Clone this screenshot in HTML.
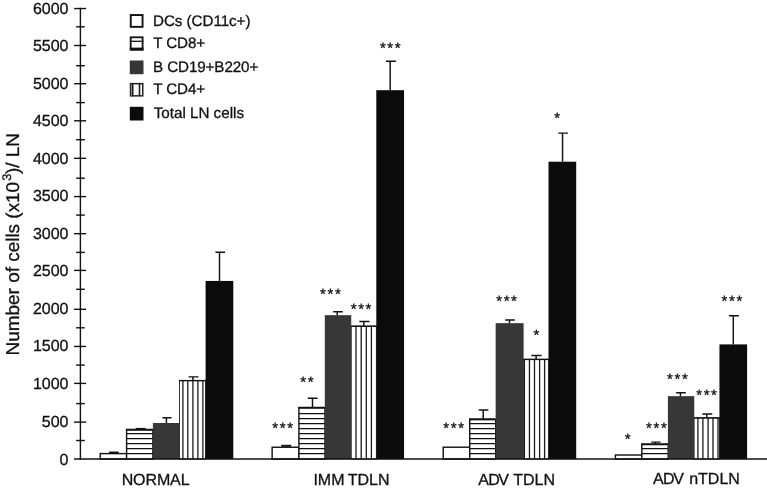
<!DOCTYPE html><html><head><meta charset="utf-8"><title>Figure</title>
<style>html,body{margin:0;padding:0;background:#fff;}svg{display:block}text{font-family:"Liberation Sans",sans-serif;fill:#111;stroke:#111;stroke-width:0.3px;text-rendering:geometricPrecision}</style></head><body>
<svg width="767" height="489" viewBox="0 0 767 489">
<rect width="767" height="489" fill="#fff"/>
<g stroke="#111" stroke-width="1.40" fill="none">
<line x1="80.40" y1="7.65" x2="80.40" y2="459.75"/>
<line x1="76.10" y1="440.50" x2="84.80" y2="440.50"/>
<line x1="74.05" y1="422.10" x2="86.10" y2="422.10"/>
<line x1="76.10" y1="403.60" x2="84.80" y2="403.60"/>
<line x1="74.05" y1="383.40" x2="86.10" y2="383.40"/>
<line x1="76.10" y1="365.10" x2="84.80" y2="365.10"/>
<line x1="74.05" y1="346.45" x2="86.10" y2="346.45"/>
<line x1="76.10" y1="327.80" x2="84.80" y2="327.80"/>
<line x1="74.05" y1="309.30" x2="86.10" y2="309.30"/>
<line x1="76.10" y1="289.30" x2="84.80" y2="289.30"/>
<line x1="74.05" y1="270.40" x2="86.10" y2="270.40"/>
<line x1="76.10" y1="252.40" x2="84.80" y2="252.40"/>
<line x1="74.05" y1="233.70" x2="86.10" y2="233.70"/>
<line x1="76.10" y1="215.10" x2="84.80" y2="215.10"/>
<line x1="74.05" y1="196.60" x2="86.10" y2="196.60"/>
<line x1="76.10" y1="178.20" x2="84.80" y2="178.20"/>
<line x1="74.05" y1="158.30" x2="86.10" y2="158.30"/>
<line x1="76.10" y1="139.70" x2="84.80" y2="139.70"/>
<line x1="74.05" y1="120.80" x2="86.10" y2="120.80"/>
<line x1="76.10" y1="102.60" x2="84.80" y2="102.60"/>
<line x1="74.05" y1="83.70" x2="86.10" y2="83.70"/>
<line x1="76.10" y1="65.70" x2="84.80" y2="65.70"/>
<line x1="74.05" y1="45.50" x2="86.10" y2="45.50"/>
<line x1="76.10" y1="26.80" x2="84.80" y2="26.80"/>
<line x1="74.05" y1="8.55" x2="86.10" y2="8.55"/>
</g>
<g font-size="16" text-anchor="end">
<text x="68.5" y="464.50">0</text>
<text x="68.5" y="426.96">500</text>
<text x="68.5" y="388.93">1000</text>
<text x="68.5" y="351.40">1500</text>
<text x="68.5" y="313.86">2000</text>
<text x="68.5" y="276.32">2500</text>
<text x="68.5" y="238.79">3000</text>
<text x="68.5" y="201.25">3500</text>
<text x="68.5" y="163.72">4000</text>
<text x="68.5" y="126.19">4500</text>
<text x="68.5" y="88.65">5000</text>
<text x="68.5" y="51.12">5500</text>
<text x="68.5" y="13.58">6000</text>
</g>
<text transform="translate(19.3,355.4) rotate(-90) scale(1.023,1)" font-size="18.5">Number of cells (x10<tspan font-size="12.5" dy="-8.2" dx="1.2">3</tspan><tspan dy="8.2" dx="-0.6">)/ LN</tspan></text>
<rect x="100.20" y="453.60" width="26.40" height="5.45" fill="#fff" stroke="#111" stroke-width="1.40"/>
<path d="M109.05 452.55 H118.65" stroke="#111" stroke-width="2" fill="none"/>
<rect x="126.60" y="429.70" width="26.30" height="29.35" fill="#fff" stroke="#111" stroke-width="1.40"/>
<path d="M126.60 453.60H152.90M126.60 448.60H152.90M126.60 443.60H152.90M126.60 438.60H152.90M126.60 433.60H152.90" stroke="#111" stroke-width="1.35" fill="none"/>
<line x1="125.90" y1="429.70" x2="152.90" y2="429.70" stroke="#111" stroke-width="1.9"/>
<path d="M135.65 428.90 H145.55" stroke="#111" stroke-width="2" fill="none"/>
<rect x="179.50" y="380.60" width="26.00" height="78.45" fill="#fff" stroke="#333" stroke-width="1.0"/>
<path d="M182.90 380.60V459.05M187.80 380.60V459.05M192.90 380.60V459.05M197.90 380.60V459.05M202.90 380.60V459.05" stroke="#1c1c1c" stroke-width="1.3" fill="none"/>
<line x1="179.00" y1="380.60" x2="206.00" y2="380.60" stroke="#111" stroke-width="1.4"/>
<path d="M192.90 380.60 V376.85 M188.55 376.85 H198.55" stroke="#111" stroke-width="1.45" fill="none"/>
<rect x="152.90" y="423.00" width="26.80" height="36.05" fill="#373737"/>
<path d="M166.40 423.00 V417.80 M162.45 417.80 H171.60" stroke="#111" stroke-width="1.45" fill="none"/>
<rect x="205.60" y="280.95" width="27.70" height="178.10" fill="#0b0b0b"/>
<path d="M219.50 280.95 V252.20 M215.45 252.20 H225.05" stroke="#111" stroke-width="1.45" fill="none"/>
<rect x="272.15" y="447.25" width="26.75" height="11.80" fill="#fff" stroke="#111" stroke-width="1.40"/>
<path d="M281.25 445.80 H291.25" stroke="#111" stroke-width="2" fill="none"/>
<rect x="298.90" y="407.70" width="26.10" height="51.35" fill="#fff" stroke="#111" stroke-width="1.40"/>
<path d="M298.90 453.60H325.00M298.90 448.60H325.00M298.90 443.60H325.00M298.90 438.60H325.00M298.90 433.60H325.00M298.90 428.60H325.00M298.90 423.60H325.00M298.90 418.60H325.00M298.90 413.60H325.00" stroke="#111" stroke-width="1.35" fill="none"/>
<line x1="298.20" y1="407.70" x2="325.00" y2="407.70" stroke="#111" stroke-width="1.9"/>
<path d="M312.50 407.70 V398.30 M307.75 398.30 H317.55" stroke="#111" stroke-width="1.45" fill="none"/>
<rect x="351.20" y="326.20" width="25.20" height="132.85" fill="#fff" stroke="#333" stroke-width="1.0"/>
<path d="M356.00 326.20V459.05M361.20 326.20V459.05M366.30 326.20V459.05M371.40 326.20V459.05" stroke="#1c1c1c" stroke-width="1.3" fill="none"/>
<line x1="350.70" y1="326.20" x2="376.90" y2="326.20" stroke="#111" stroke-width="1.4"/>
<path d="M363.80 326.20 V321.40 M359.35 321.40 H369.55" stroke="#111" stroke-width="1.45" fill="none"/>
<rect x="324.80" y="315.15" width="26.45" height="143.90" fill="#373737"/>
<path d="M337.25 315.15 V311.80 M333.15 311.80 H342.75" stroke="#111" stroke-width="1.45" fill="none"/>
<rect x="376.30" y="90.20" width="27.75" height="368.85" fill="#0b0b0b"/>
<path d="M390.20 90.20 V61.20 M385.85 61.20 H395.85" stroke="#111" stroke-width="1.45" fill="none"/>
<rect x="443.20" y="447.20" width="26.50" height="11.85" fill="#fff" stroke="#111" stroke-width="1.40"/>
<rect x="469.70" y="419.35" width="26.00" height="39.70" fill="#fff" stroke="#111" stroke-width="1.40"/>
<path d="M469.70 453.60H495.70M469.70 448.60H495.70M469.70 443.60H495.70M469.70 438.60H495.70M469.70 433.60H495.70M469.70 428.60H495.70M469.70 423.60H495.70" stroke="#111" stroke-width="1.35" fill="none"/>
<line x1="469.00" y1="419.35" x2="495.70" y2="419.35" stroke="#111" stroke-width="1.9"/>
<path d="M483.20 419.35 V409.90 M478.75 409.90 H488.35" stroke="#111" stroke-width="1.45" fill="none"/>
<rect x="523.40" y="359.40" width="25.20" height="99.65" fill="#fff" stroke="#333" stroke-width="1.0"/>
<path d="M524.40 359.40V459.05M529.45 359.40V459.05M534.50 359.40V459.05M539.60 359.40V459.05M544.60 359.40V459.05" stroke="#1c1c1c" stroke-width="1.3" fill="none"/>
<line x1="522.90" y1="359.40" x2="549.10" y2="359.40" stroke="#111" stroke-width="1.4"/>
<path d="M536.10 359.40 V355.50 M531.35 355.50 H541.55" stroke="#111" stroke-width="1.45" fill="none"/>
<rect x="495.65" y="323.15" width="27.95" height="135.90" fill="#373737"/>
<path d="M509.50 323.15 V320.00 M505.25 320.00 H514.85" stroke="#111" stroke-width="1.45" fill="none"/>
<rect x="548.50" y="161.70" width="27.70" height="297.35" fill="#0b0b0b"/>
<path d="M562.55 161.70 V133.10 M558.35 133.10 H567.95" stroke="#111" stroke-width="1.45" fill="none"/>
<rect x="615.40" y="455.00" width="26.40" height="4.05" fill="#fff" stroke="#111" stroke-width="1.40"/>
<rect x="641.80" y="444.30" width="26.40" height="14.75" fill="#fff" stroke="#111" stroke-width="1.40"/>
<path d="M641.80 453.60H668.20M641.80 448.60H668.20" stroke="#111" stroke-width="1.35" fill="none"/>
<line x1="641.10" y1="444.30" x2="668.20" y2="444.30" stroke="#111" stroke-width="1.9"/>
<path d="M655.30 444.30 V442.10 M651.25 442.10 H660.55" stroke="#111" stroke-width="1.45" fill="none"/>
<rect x="694.00" y="417.90" width="25.50" height="41.15" fill="#fff" stroke="#333" stroke-width="1.0"/>
<path d="M697.90 417.90V459.05M702.90 417.90V459.05M708.10 417.90V459.05M713.00 417.90V459.05M718.00 417.90V459.05" stroke="#1c1c1c" stroke-width="1.3" fill="none"/>
<line x1="693.50" y1="417.90" x2="720.00" y2="417.90" stroke="#111" stroke-width="1.4"/>
<path d="M706.70 417.90 V414.00 M702.35 414.00 H712.25" stroke="#111" stroke-width="1.45" fill="none"/>
<rect x="667.90" y="396.15" width="26.35" height="62.90" fill="#373737"/>
<path d="M680.40 396.15 V392.70 M676.15 392.70 H685.75" stroke="#111" stroke-width="1.45" fill="none"/>
<rect x="719.45" y="344.40" width="27.65" height="114.65" fill="#0b0b0b"/>
<path d="M733.30 344.40 V315.70 M729.05 315.70 H738.85" stroke="#111" stroke-width="1.45" fill="none"/>
<line x1="74.05" y1="459.05" x2="767" y2="459.05" stroke="#111" stroke-width="1.45"/>
<g font-size="16">
<text x="121.7" y="485.0" letter-spacing="-0.12">NORMAL</text>
<text x="313.4" y="484.9">IMM<tspan dx="-1.0"> TDLN</tspan></text>
<text x="478.3" y="484.9">A<tspan dx="-0.7">D</tspan><tspan dx="-1.7">V</tspan><tspan dx="0.2"> TDLN</tspan></text>
<text x="653.1" y="483.9">A<tspan dx="-0.7">D</tspan><tspan dx="-1.3">V</tspan><tspan dx="0.7"> nTDLN</tspan></text>
</g>
<g font-size="15" letter-spacing="1.62">
<text x="272.30" y="432.85">***</text>
<text x="300.30" y="386.65">**</text>
<text x="320.10" y="298.85">***</text>
<text x="350.70" y="313.65">***</text>
<text x="379.90" y="52.65">***</text>
<text x="443.30" y="432.85">***</text>
<text x="496.20" y="305.65">***</text>
<text x="533.60" y="340.20">*</text>
<text x="554.20" y="122.65">*</text>
<text x="624.80" y="443.50">*</text>
<text x="646.10" y="432.85">***</text>
<text x="667.10" y="383.75">***</text>
<text x="696.20" y="399.65">***</text>
<text x="721.50" y="305.65">***</text>
</g>
<rect x="130.75" y="15.05" width="11.80" height="11.80" fill="#fff" stroke="#111" stroke-width="1.9"/>
<text x="153.00" y="25.60" font-size="15.2" letter-spacing="-0.05">DCs (CD11c+)</text>
<rect x="130.70" y="37.30" width="11.90" height="12.30" fill="#fff" stroke="#111" stroke-width="1.8"/>
<line x1="129.80" y1="41.30" x2="143.50" y2="41.30" stroke="#111" stroke-width="1.3"/>
<rect x="129.80" y="47.60" width="13.70" height="2.9" fill="#111"/>
<text x="153.20" y="47.90" font-size="15.2" letter-spacing="-0.10">T CD8+</text>
<rect x="129.80" y="60.50" width="13.70" height="13.70" fill="#353535"/>
<text x="153.00" y="71.50" font-size="15.2" letter-spacing="-0.10">B CD19+B220+</text>
<rect x="130.55" y="83.65" width="12.20" height="12.20" fill="#fff" stroke="#222" stroke-width="1.5"/>
<rect x="131.00" y="84.10" width="1.6" height="11.30" fill="#999"/>
<line x1="132.70" y1="83.40" x2="132.70" y2="96.10" stroke="#111" stroke-width="1.5"/>
<line x1="139.50" y1="83.40" x2="139.50" y2="96.10" stroke="#111" stroke-width="1.5"/>
<text x="153.20" y="94.45" font-size="15.2" letter-spacing="-0.10">T CD4+</text>
<rect x="129.80" y="106.80" width="13.70" height="13.70" fill="#0b0b0b"/>
<text x="153.70" y="117.80" font-size="15.2" letter-spacing="0.00">Total LN cells</text>
</svg></body></html>
